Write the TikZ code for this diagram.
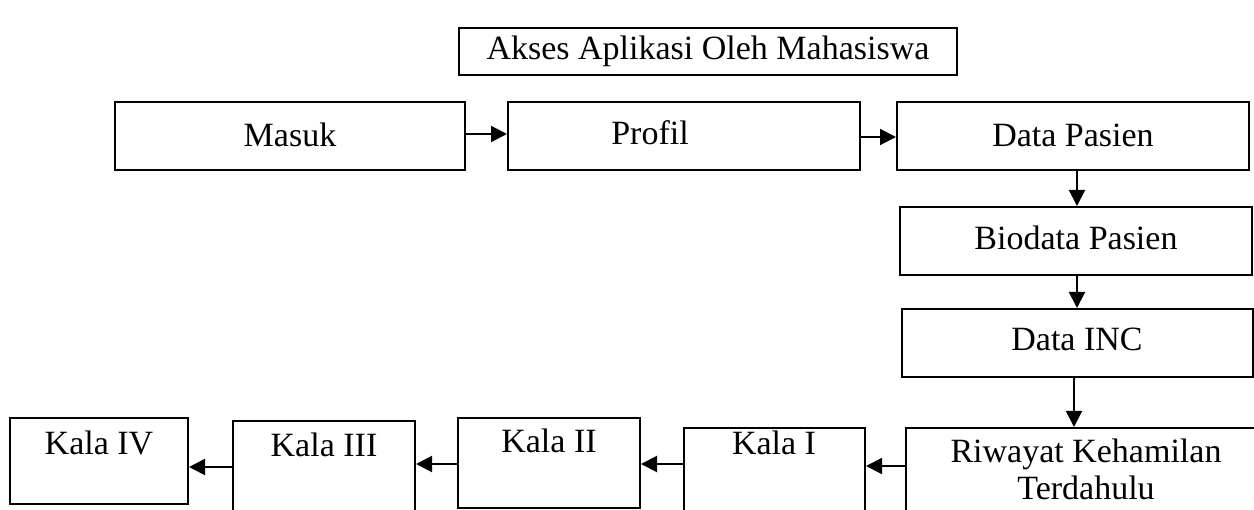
\documentclass[tikz,border=0pt]{standalone}
\usepackage{fontspec}
\setmainfont{Liberation Serif}
\usetikzlibrary{arrows.meta}
\begin{document}
\begin{tikzpicture}[x=1pt,y=-1pt,
  box/.style={draw,line width=2pt,rectangle,inner sep=0pt},
  txt/.style={font=\fontsize{34}{37}\selectfont,inner sep=0pt,align=center},
  arr/.style={line width=2pt,-{Triangle[length=16pt,width=16pt]}}]
\useasboundingbox (0,0) rectangle (1254,510);
\clip (0,0) rectangle (1254,510);
% top
\node[box,minimum width=498pt,minimum height=47pt] (akses) at (708,51.5) {};
\node[txt] (aksest) at (708,51) {Akses Aplikasi Oleh Mahasiswa};
% row 1
\node[box,minimum width=350pt,minimum height=68pt] (masuk) at (290,136) {};
\node[txt] (masukt) at (290,135) {Masuk};
\node[box,minimum width=352pt,minimum height=68pt] (profil) at (684,136) {};
\node[txt] (profilt) at (650,133) {Profil};
\node[box,minimum width=352pt,minimum height=68pt] (datapasien) at (1073,136) {};
\node[txt] (datapasient) at (1073,135) {Data Pasien};
% column
\node[box,minimum width=352pt,minimum height=68pt] (biodata) at (1076,241) {};
\node[txt] (biodatat) at (1076,238) {Biodata Pasien};
\node[box,minimum width=351pt,minimum height=68pt] (inc) at (1077.5,343) {};
\node[txt] (inct) at (1077,339) {Data INC};
% bottom row
\node[box,minimum width=360pt,minimum height=160pt] (riwayat) at (1086,508) {};
\node[txt] (riwayatt) at (1086,469) {Riwayat Kehamilan\\Terdahulu};
\node[box,minimum width=181pt,minimum height=160pt] (kala1) at (774.5,508) {};
\node[txt] (kala1t) at (774,443) {Kala I};
\node[box,minimum width=182pt,minimum height=90pt] (kala2) at (549,463) {};
\node[txt] (kala2t) at (549,441) {Kala II};
\node[box,minimum width=182pt,minimum height=160pt] (kala3) at (324,501) {};
\node[txt] (kala3t) at (324,445) {Kala III};
\node[box,minimum width=178pt,minimum height=86pt] (kala4) at (99,461) {};
\node[txt] (kala4t) at (99,443) {Kala IV};
% arrows
\draw[arr] (masuk.east |- 0,134) -- (profil.west |- 0,134);
\draw[arr] (profil.east |- 0,137) -- (datapasien.west |- 0,137);
\draw[arr] (datapasien.south -| 1077,0) -- (biodata.north -| 1077,0);
\draw[arr] (biodata.south -| 1077,0) -- (inc.north -| 1077,0);
\draw[arr] (inc.south -| 1074,0) -- (riwayat.north -| 1074,0);
\draw[arr] (riwayat.west |- 0,466) -- (kala1.east |- 0,466);
\draw[arr] (kala1.west |- 0,464) -- (kala2.east |- 0,464);
\draw[arr] (kala2.west |- 0,464) -- (kala3.east |- 0,464);
\draw[arr] (kala3.west |- 0,467) -- (kala4.east |- 0,467);
\end{tikzpicture}
\end{document}
